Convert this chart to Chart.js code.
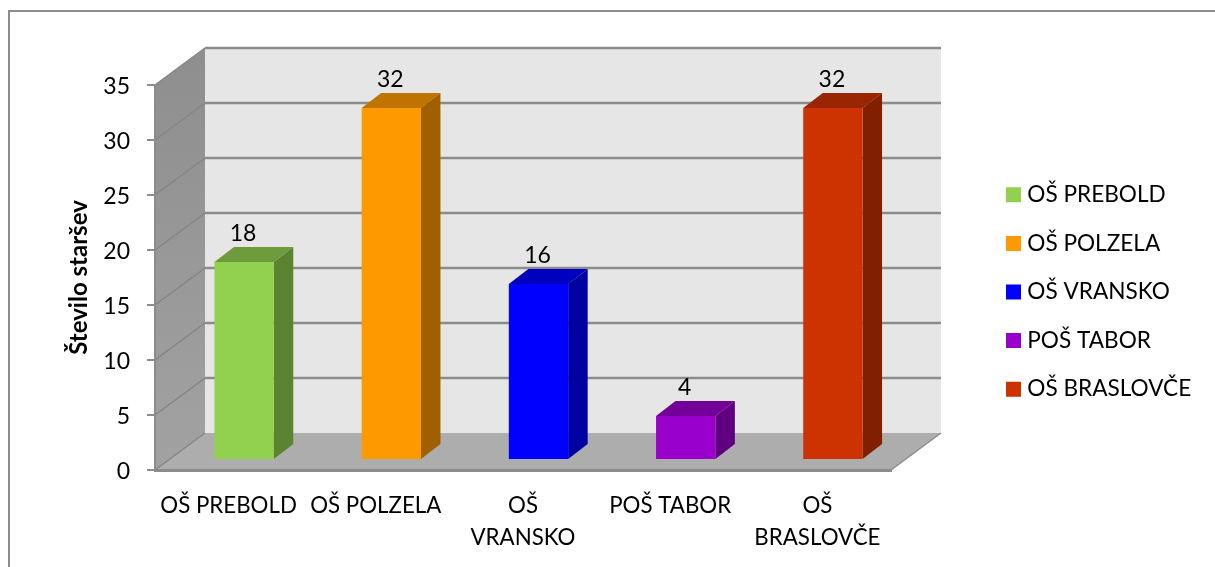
<!DOCTYPE html>
<html>
<head>
<meta charset="utf-8">
<style>html,body{margin:0;padding:0;background:#fff;overflow:hidden}canvas{display:block}</style>
<script src="https://cdn.jsdelivr.net/npm/chart.js@4"></script>
</head>
<body>
<canvas id="c" width="1215" height="567"></canvas>
<script>
const legendNames = ['OŠ PREBOLD','OŠ POLZELA','OŠ VRANSKO','POŠ TABOR','OŠ BRASLOVČE'];
const axisLabels = ['OŠ PREBOLD','OŠ POLZELA',['OŠ','VRANSKO'],'POŠ TABOR',['OŠ','BRASLOVČE']];
const values = [18,32,16,4,32];
const barColors = ['#92D050','#FF9900','#0000FF','#9900CC','#CC3300'];
const axisTitle = 'Število staršev';
const FONT = 'Lato';

// 3D geometry
const WALL_DX = 50, WALL_DY = -37;
const BAR_DX = 15.5, BAR_DY = -10;
const DEPTH_DX = 19.5, DEPTH_DY = -15;

function shade(hex, k){
  const n = parseInt(hex.slice(1),16);
  return 'rgb('+[(n>>16)&255,(n>>8)&255,n&255].map(v=>Math.round(v*k)).join(',')+')';
}
function poly(ctx, pts, fill){
  ctx.beginPath();
  pts.forEach((p,i)=> i?ctx.lineTo(p[0],p[1]):ctx.moveTo(p[0],p[1]));
  ctx.closePath();
  ctx.fillStyle = fill;
  ctx.fill();
}

const scene3d = {
  id:'scene3d',
  beforeDraw(chart){
    const ctx = chart.ctx, a = chart.chartArea, y = chart.scales.y;
    const L=a.left, R=a.right, T=a.top, B=a.bottom;
    ctx.save();
    // frame
    ctx.strokeStyle='#8c8c8c'; ctx.lineWidth=2;
    ctx.beginPath(); ctx.moveTo(9,567); ctx.lineTo(9,11); ctx.lineTo(1215,11); ctx.stroke();
    // back wall
    poly(ctx,[[L+WALL_DX,T+WALL_DY],[R+WALL_DX,T+WALL_DY],[R+WALL_DX,B+WALL_DY],[L+WALL_DX,B+WALL_DY]],'#E6E6E6');
    // left wall
    const g = ctx.createLinearGradient(0,T+WALL_DY,0,B);
    g.addColorStop(0,'#8E8E8E'); g.addColorStop(1,'#A2A2A2');
    poly(ctx,[[L,T],[L+WALL_DX,T+WALL_DY],[L+WALL_DX,B+WALL_DY],[L,B]],g);
    // floor
    poly(ctx,[[L,B],[L+WALL_DX,B+WALL_DY],[R+WALL_DX,B+WALL_DY],[R,B]],'#ADADAD');
    ctx.strokeStyle='#8c8c8c'; ctx.lineWidth=1.5;
    ctx.beginPath(); ctx.moveTo(R,B); ctx.lineTo(R+WALL_DX,B+WALL_DY); ctx.stroke();
    // grid lines on both walls
    y.ticks.forEach(t=>{
      const py = y.getPixelForValue(t.value);
      if (t.value>0){
        ctx.strokeStyle='#8c8c8c'; ctx.lineWidth=2.5;
        ctx.beginPath(); ctx.moveTo(L+WALL_DX,py+WALL_DY); ctx.lineTo(R+WALL_DX,py+WALL_DY); ctx.stroke();
      }
      ctx.strokeStyle='#858585'; ctx.lineWidth=1.5;
      ctx.beginPath(); ctx.moveTo(L,py); ctx.lineTo(L+WALL_DX,py+WALL_DY); ctx.stroke();
    });
    ctx.restore();
  },
  afterLayout(chart){
    const lg = chart.legend;
    lg.left = 985; lg.right = 1215; lg.top = 157.5; lg.bottom = 567;
  },
  beforeDatasetsDraw(chart){
    const ctx = chart.ctx;
    ctx.save();
    ctx.translate(BAR_DX,BAR_DY);
    chart.getDatasetMeta(0).data.forEach((el,i)=>{
      const p = el.getProps(['x','y','base','width'],true);
      const l=p.x-p.width/2, r=p.x+p.width/2;
      poly(ctx,[[l,p.y],[l+DEPTH_DX,p.y+DEPTH_DY],[r+DEPTH_DX,p.y+DEPTH_DY],[r,p.y]],shade(barColors[i],0.75));
      poly(ctx,[[r,p.y],[r+DEPTH_DX,p.y+DEPTH_DY],[r+DEPTH_DX,p.base+DEPTH_DY],[r,p.base]],shade(barColors[i],0.63));
    });
  },
  afterDatasetsDraw(chart){
    const ctx = chart.ctx;
    ctx.fillStyle='#000';
    ctx.font='23px '+FONT;
    ctx.textAlign='center'; ctx.textBaseline='middle';
    chart.getDatasetMeta(0).data.forEach((el,i)=>{
      ctx.fillText(String(values[i]),el.x-1,el.y+DEPTH_DY-13);
    });
    ctx.restore();
  }
};

new Chart(document.getElementById('c'),{
  type:'bar',
  data:{
    labels:axisLabels,
    datasets:[{data:values,backgroundColor:barColors,borderWidth:0,barPercentage:0.403,categoryPercentage:1,clip:false}]
  },
  plugins:[scene3d],
  options:{
    responsive:false,
    animation:false,
    events:[],
    layout:{padding:{left:0,top:85,right:324,bottom:0}},
    plugins:{
      tooltip:{enabled:false},
      title:{display:false},
      legend:{
        display:true,
        position:'chartArea',
        align:'start',
        labels:{
          usePointStyle:true,
          boxWidth:5,
          boxHeight:15,
          padding:26,
          color:'#000',
          font:{family:FONT,size:22.6,lineHeight:1},
          generateLabels(){
            return legendNames.map((n,i)=>({text:n,fillStyle:barColors[i],strokeStyle:barColors[i],lineWidth:0,pointStyle:'rect',hidden:false,index:i,fontColor:'#000'}));
          }
        }
      }
    },
    scales:{
      x:{
        afterFit(s){s.height=97;},
        grid:{drawOnChartArea:false,drawTicks:false},
        border:{color:'#8c8c8c',width:3,z:1},
        ticks:{color:'#000',padding:20,autoSkip:false,maxRotation:0,minRotation:0,font:{family:FONT,size:22.3,lineHeight:1.43}}
      },
      y:{
        min:0,max:35,
        afterFit(s){s.width=155;},
        grid:{drawOnChartArea:false,drawTicks:true,tickLength:8,color:'#8c8c8c',lineWidth:2},
        border:{color:'#8c8c8c',width:2,z:1},
        ticks:{stepSize:5,color:'#000',padding:17,labelOffset:2,font:{family:FONT,size:23}},
        title:{display:true,text:axisTitle,color:'#000',padding:{top:65,bottom:0},font:{family:FONT,size:24,weight:'bold',lineHeight:1.2}}
      }
    }
  }
});
</script>
</body>
</html>
